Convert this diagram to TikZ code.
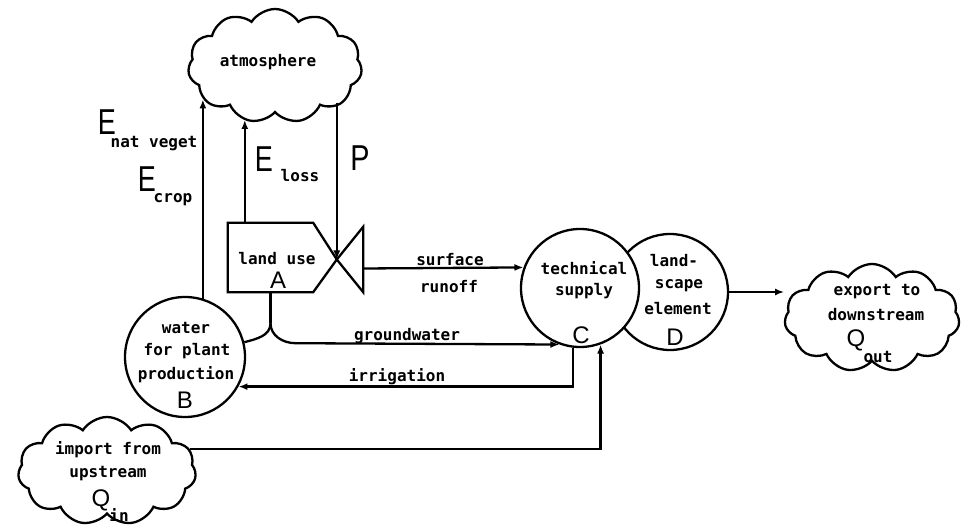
\documentclass[tikz,border=0pt]{standalone}
\usepackage{fontspec}
\usepackage{graphicx}
\setmainfont{Liberation Sans}
\newfontfamily\monof{DejaVu Sans Mono}
\usetikzlibrary{shapes.symbols,arrows.meta}
\begin{document}
\begin{tikzpicture}[x=1pt,y=1pt,
  lw/.style={line width=2.3pt},
  txt/.style={font=\monof\bfseries\fontsize{16}{16}\selectfont, inner sep=0pt, anchor=base},
  bigl/.style={font=\fontsize{24}{24}\selectfont, inner sep=0pt, anchor=base},
  hugel/.style={font=\fontsize{36}{36}\selectfont, inner sep=0pt, anchor=base},
  arr/.style={lw, -{Latex[length=9pt,width=7pt]}},
  cl/.style={cloud, draw, lw, cloud puffs=11, cloud ignores aspect, cloud puff arc=115, inner sep=0pt},
  circ/.style={circle, draw, lw, inner sep=0pt},
]
\useasboundingbox (0,0) rectangle (968,-526);

% clouds
\node[cl, minimum width=174, minimum height=114] (atm) at (275,-66) {};
\node[cl, minimum width=178, minimum height=108] (imp) at (107,-471) {};
\node[cl, minimum width=175, minimum height=108] (exp) at (872,-318) {};

% land use box and valve
\node[minimum width=85, minimum height=69, inner sep=0pt] (A) at (270.5,-257.5) {};
\node[minimum width=26, minimum height=65, inner sep=0pt] (valve) at (350,-259.5) {};
\draw[lw, line join=miter] (A.north west) -- (A.north east) -- (valve.west) -- (A.south east) -- (A.south west) -- cycle;
\draw[lw, line join=miter] (valve.west) -- (valve.north east) -- (valve.south east) -- cycle;

% circles
\node[circ, minimum size=120] (B) at (185,-357) {};
\node[circ, minimum size=116] (D) at (670,-292) {};
\node[circ, minimum size=118, fill=white] (C) at (580,-288) {};

% connectors
\draw[arr] (B.73) -- (B.73 |- atm.205);
\coordinate (el) at ([xshift=17]A.north west);
\draw[arr] (el) -- (el |- atm.240);
\draw[arr] (valve.west |- atm.-28) -- (valve.west);
\draw[arr] ([yshift=-9]valve.east) -- (C.160);
\draw[lw] (A.south) -- ++(0,-31) coordinate (split);
\draw[arr] (split) to[out=-90,in=180] ++(25,-20) -- (C.250);
\draw[lw] (split) to[out=-90,in=15] (B.14);
\draw[arr] (C.263) |- (B.-29);
\draw[arr] (imp.15) -| (C.290);
\draw[arr] (D.east) -- (D.east -| exp.west);

% texts
\node[txt] (tatm) at (268,-67) {atmosphere};
\node[hugel] (e1) at (107,-135) {\scalebox{0.75}[1]{E}};
\node[txt] (e1s) at (154,-148) {nat veget};
\node[hugel] (e2) at (147,-192) {\scalebox{0.75}[1]{E}};
\node[txt] (e2s) at (173,-203) {crop};
\node[hugel] (e3) at (264,-172) {\scalebox{0.75}[1]{E}};
\node[txt] (e3s) at (300,-182) {loss};
\node[hugel] (p) at (360,-171) {\scalebox{0.8}[1]{P}};
\node[txt] (tA1) at (277,-265) {land use};
\node[bigl] (tA2) at (278,-288) {A};
\node[txt] (tsr1) at (450,-266) {surface};
\node[txt] (tsr2) at (449,-293) {runoff};
\node[txt] (tgw) at (407,-340) {groundwater};
\node[txt] (tir) at (397,-381) {irrigation};
\node[txt] (tB1) at (186,-333) {water};
\node[txt] (tB2) at (187,-355) {for plant};
\node[txt] (tB3) at (186,-379) {production};
\node[bigl] (tB4) at (185,-408) {B};
\node[txt] (tC1) at (584,-275) {technical};
\node[txt] (tC2) at (584,-295) {supply};
\node[bigl] (tC3) at (581,-343) {C};
\node[txt] (tD1) at (674,-267) {land-};
\node[txt] (tD2) at (679,-288) {scape};
\node[txt] (tD3) at (678,-315) {element};
\node[bigl] (tD4) at (675,-345) {D};
\node[txt] (ti1) at (108,-454) {import from};
\node[txt] (ti2) at (108,-477) {upstream};
\node[bigl] (ti3) at (101,-506) {Q};
\node[txt] (ti4) at (119,-521) {in};
\node[txt] (to1) at (877,-295) {export to};
\node[txt] (to2) at (876,-320) {downstream};
\node[bigl] (to3) at (856,-346) {Q};
\node[txt] (to4) at (878,-362) {out};
\end{tikzpicture}
\end{document}
